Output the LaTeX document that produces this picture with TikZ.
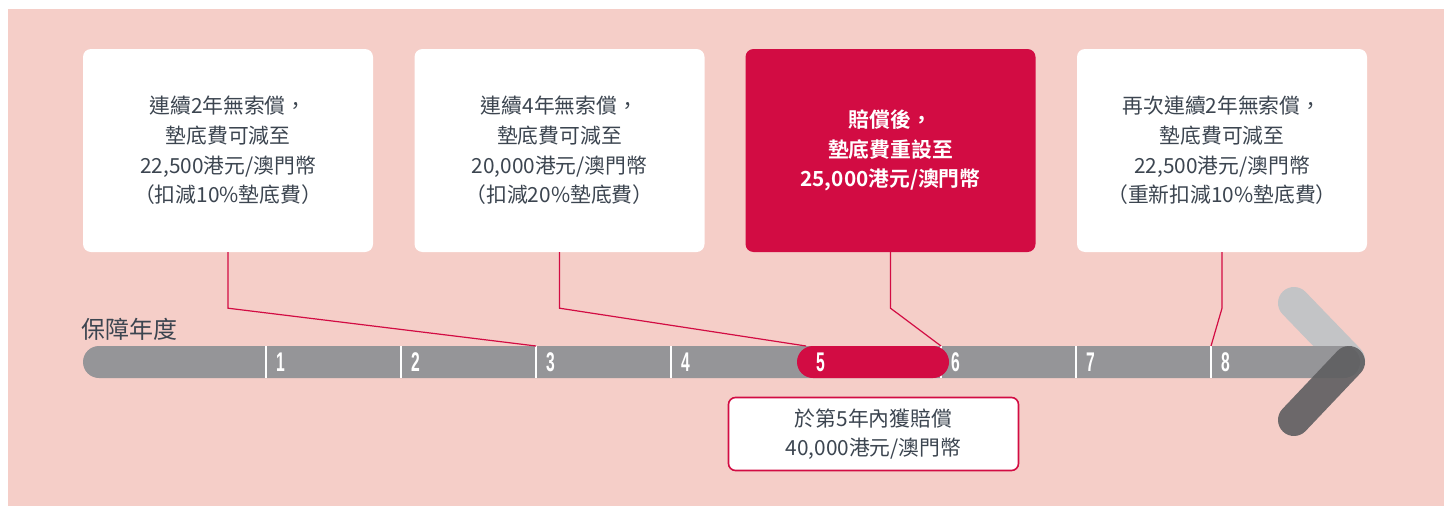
\documentclass[tikz,border=0pt]{standalone}
\usepackage{fontspec}
\setmainfont{Noto Sans CJK TC}[BoldFont={Noto Sans CJK TC Bold}]
\newfontfamily\numfont{Liberation Sans}
\definecolor{bgpink}{HTML}{F5CEC8}
\definecolor{hsred}{HTML}{D20C43}
\definecolor{txt}{HTML}{3C4550}
\definecolor{bargray}{HTML}{959598}
\definecolor{lightarm}{HTML}{C3C4C6}
\definecolor{darkarm}{HTML}{5E5E60}
\tikzset{
  infobox/.style={rounded corners=8pt, fill=white, minimum width=290pt, minimum height=203pt,
    align=center, text=txt, font=\fontsize{20.8}{29.6}\selectfont, inner sep=0pt},
  redbox/.style={infobox, fill=hsred, text=white, font=\fontsize{20.8}{29.6}\selectfont\bfseries},
  conn/.style={draw=hsred, line width=1.2pt},
  yearnum/.style={text=white, font=\fontsize{27}{27}\numfont\bfseries, inner sep=0pt},
  sep/.style={draw=white, line width=1.3pt},
  payout/.style={rounded corners=7pt, fill=white, draw=hsred, line width=1.6pt, minimum width=290pt,
    minimum height=73pt, align=center, text=txt, font=\fontsize{20.8}{29}\selectfont, inner sep=0pt}
}
\begin{document}
\begin{tikzpicture}[x=1pt, y=-1pt]
\useasboundingbox (0,0) rectangle (1451,506);
\fill[white] (0,0) rectangle (1451,506);
\fill[bgpink] (8,9) rectangle (1444,506);

% boxes
\node[infobox] (b1) at (228,150.5) {連續2年無索償，\\墊底費可減至\\22,500港元/澳門幣\\（扣減10\%墊底費）};
\node[infobox] (b2) at (559.5,150.5) {連續4年無索償，\\墊底費可減至\\20,000港元/澳門幣\\（扣減20\%墊底費）};
\node[redbox] (b3) at (890.5,150.5) {賠償後，\\墊底費重設至\\25,000港元/澳門幣};
\node[infobox] (b4) at (1222,150.5) {再次連續2年無索償，\\墊底費可減至\\22,500港元/澳門幣\\（重新扣減10\%墊底費）};

% arrow head light arm (behind bar)
\draw[lightarm, line width=32pt, line cap=round] (1294,303) -- (1349,360);

% timeline bar
\fill[bargray, rounded corners=16pt] (83,346) rectangle (1360,378);

\node[anchor=west, inner sep=0pt, text=txt, font=\fontsize{24}{24}\selectfont] (lab) at (81,329) {保障年度};

% separators
\foreach \x/\n in {266/1,401/2,536/3,671/4,941/6,1076/7,1211/8}{
  \coordinate (s\n) at (\x,346);
  \draw[sep] (s\n) -- (\x,378);
}
\coordinate (s5) at (806,346);
% red pill for year 5
\fill[hsred, rounded corners=16pt] (797,346) rectangle (949,378);

\foreach \x/\n in {266/1,401/2,536/3,671/4,806/5,941/6,1076/7,1211/8}{
  \node[yearnum] (y\n) at (\x+14.5,362.5) {\scalebox{0.58}[1]{\n}};
}

% arrow head dark arm
\draw[darkarm, opacity=0.9, line width=32pt, line cap=round] (1349,362) -- (1294,420);

% connectors
\draw[conn] (b1.south) -- ([yshift=-56pt]b1.south) -- (s3);
\draw[conn] (b2.south) -- ([yshift=-56pt]b2.south) -- (s5);
\draw[conn] (b3.south) -- ([yshift=-56pt]b3.south) -- (s6);
\draw[conn] (b4.south) -- ([yshift=-56pt]b4.south) -- (s8);

% payout box
\node[payout] (pay) at (873.5,434) {於第5年內獲賠償\\40,000港元/澳門幣};
\end{tikzpicture}
\end{document}
